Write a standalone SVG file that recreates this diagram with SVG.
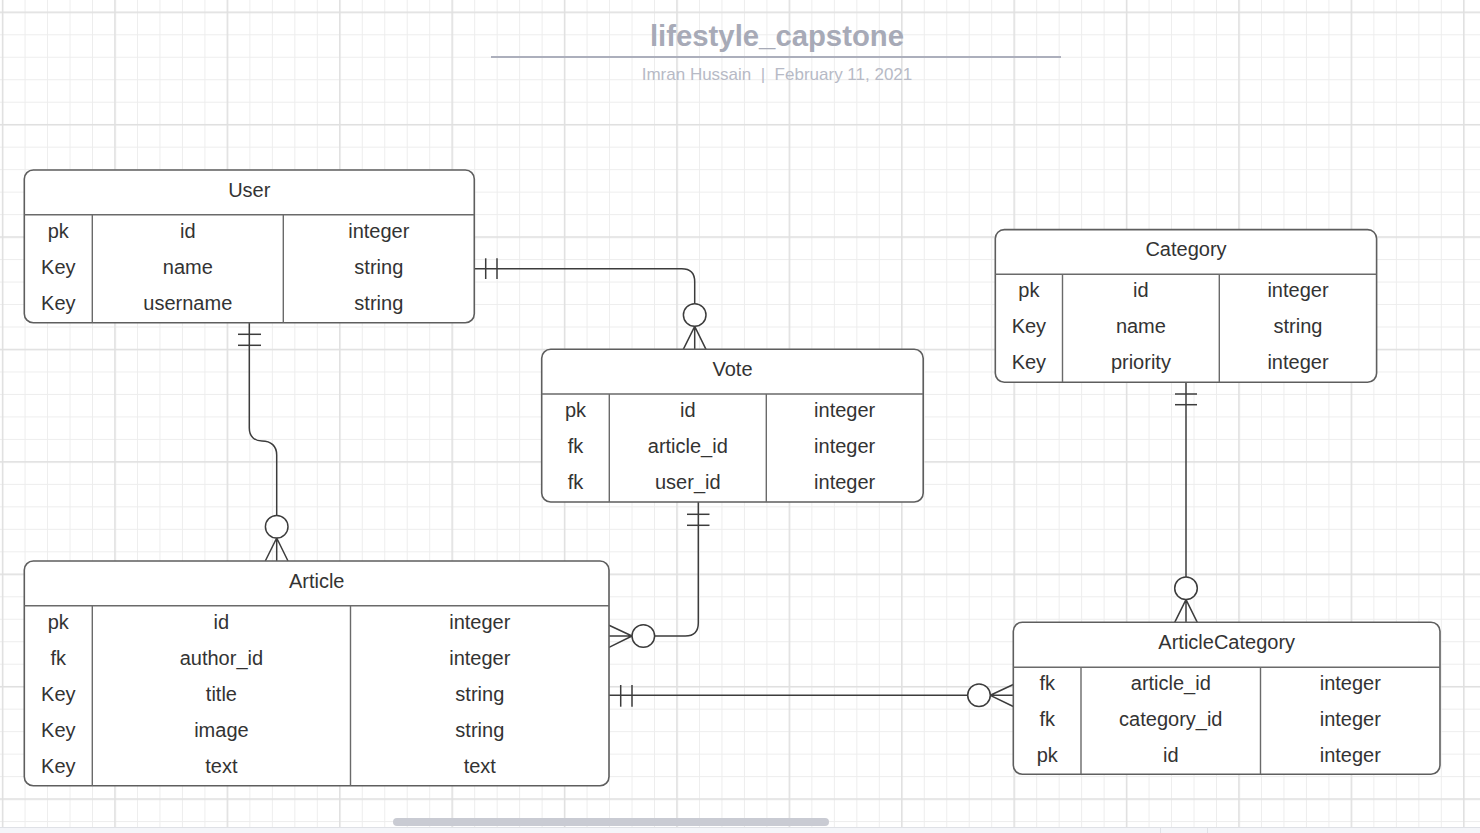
<svg xmlns="http://www.w3.org/2000/svg" width="1480" height="833" viewBox="0 0 1480 833">
<defs>
<pattern id="gmin" patternUnits="userSpaceOnUse" x="2.1" y="11.8" width="22.48" height="22.48">
<rect x="0" y="0" width="1" height="22.48" fill="#ededed"/>
<rect x="0" y="0" width="22.48" height="1" fill="#ededed"/>
</pattern>
<pattern id="gmaj" patternUnits="userSpaceOnUse" x="1.85" y="11.55" width="112.4" height="112.4">
<rect x="0" y="0" width="1.5" height="112.4" fill="#e0e0e0"/>
<rect x="0" y="0" width="112.4" height="1.5" fill="#e0e0e0"/>
</pattern>
<style>
.box{fill:#ffffff;stroke:#5e5e5e;stroke-width:1.6}
.sep{stroke:#6a6a6a;stroke-width:1.4;fill:none}
.t{font-family:"Liberation Sans",Arial,sans-serif;font-size:20px;fill:#333333;text-anchor:middle}
.ln{stroke:#3c3c3c;stroke-width:1.5;fill:none}
.cir{stroke:#3c3c3c;stroke-width:1.5;fill:#ffffff}
</style>
</defs>
<rect width="1480" height="833" fill="#ffffff"/>
<rect width="1480" height="833" fill="url(#gmin)"/>
<rect width="1480" height="833" fill="url(#gmaj)"/>
<rect x="0" y="827" width="1480" height="6" fill="#f4f5f9"/>
<line x1="0" y1="827.5" x2="1480" y2="827.5" stroke="#dfe1e6" stroke-width="1"/>
<line x1="1160.5" y1="828" x2="1160.5" y2="833" stroke="#dfe1e6" stroke-width="1"/>
<line x1="1207.5" y1="828" x2="1207.5" y2="833" stroke="#dfe1e6" stroke-width="1"/>
<rect x="393" y="818" width="436" height="8" rx="4" fill="#c9cbd3"/>

<g id="title">
<text x="777" y="46" font-family="Liberation Sans,Arial,sans-serif" font-size="29.3" font-weight="bold" fill="#a7aab7" text-anchor="middle">lifestyle_capstone</text>
<line x1="491" y1="57" x2="1061" y2="57" stroke="#acafbc" stroke-width="2.2"/>
<text x="777" y="80" font-family="Liberation Sans,Arial,sans-serif" font-size="17" fill="#b7bac6" text-anchor="middle" xml:space="preserve">Imran Hussain  |  February 11, 2021</text>
</g>

<g id="connectors">
<!-- User - Vote -->
<path class="ln" d="M474.3,268.7 H681.7 Q694.7,268.7 694.7,281.7 V303.7"/>
<line class="ln" x1="485.7" y1="258.3" x2="485.7" y2="279"/>
<line class="ln" x1="497" y1="258.3" x2="497" y2="279"/>
<circle class="cir" cx="694.7" cy="315" r="11.3"/>
<path class="ln" d="M694.7,326.3 V349.3 M694.7,326.3 L683.3,349.3 M694.7,326.3 L706,349.3"/>
<!-- User - Article -->
<path class="ln" d="M249.3,322.7 V428 C249.3,436 254,441 262,441 C271,441 276.7,446 276.7,455 V515.4"/>
<line class="ln" x1="238" y1="334.3" x2="261" y2="334.3"/>
<line class="ln" x1="238" y1="345.3" x2="261" y2="345.3"/>
<circle class="cir" cx="276.7" cy="526.7" r="11.3"/>
<path class="ln" d="M276.7,538 V561 M276.7,538 L265.3,561 M276.7,538 L288,561"/>
<!-- Vote - Article -->
<path class="ln" d="M698.3,502 V623 Q698.3,636 685.3,636 H654.6"/>
<line class="ln" x1="687" y1="514.3" x2="709.5" y2="514.3"/>
<line class="ln" x1="687" y1="525.3" x2="709.5" y2="525.3"/>
<circle class="cir" cx="643.3" cy="636" r="11.3"/>
<path class="ln" d="M632,636 H609 M632,636 L609,625.3 M632,636 L609,647.3"/>
<!-- Article - ArticleCategory -->
<path class="ln" d="M609,695.3 H967.7"/>
<line class="ln" x1="620.7" y1="685" x2="620.7" y2="706.7"/>
<line class="ln" x1="632" y1="685" x2="632" y2="706.7"/>
<circle class="cir" cx="979" cy="695.3" r="11.3"/>
<path class="ln" d="M990.3,695.3 H1013.3 M990.3,695.3 L1013.3,684.5 M990.3,695.3 L1013.3,706.5"/>
<!-- Category - ArticleCategory -->
<path class="ln" d="M1186,382 V577"/>
<line class="ln" x1="1175" y1="394" x2="1197" y2="394"/>
<line class="ln" x1="1175" y1="404.7" x2="1197" y2="404.7"/>
<circle class="cir" cx="1186" cy="588.3" r="11.3"/>
<path class="ln" d="M1186,599.6 V622.3 M1186,599.6 L1174.7,622.3 M1186,599.6 L1197.3,622.3"/>
</g>

<g id="User">
<rect class="box" x="24.3" y="170" width="450" height="152.7" rx="9"/>
<path class="sep" d="M24.3,214.7 H474.3 M92.3,214.7 V322.7 M283.3,214.7 V322.7"/>
<text class="t" x="249.3" y="196.5">User</text>
<text class="t" x="58.3" y="237.8">pk</text><text class="t" x="187.8" y="237.8">id</text><text class="t" x="378.8" y="237.8">integer</text>
<text class="t" x="58.3" y="273.8">Key</text><text class="t" x="187.8" y="273.8">name</text><text class="t" x="378.8" y="273.8">string</text>
<text class="t" x="58.3" y="309.8">Key</text><text class="t" x="187.8" y="309.8">username</text><text class="t" x="378.8" y="309.8">string</text>
</g>

<g id="Vote">
<rect class="box" x="541.7" y="349.3" width="381.5" height="152.7" rx="9"/>
<path class="sep" d="M541.7,394 H923.2 M609.3,394 V502 M766.3,394 V502"/>
<text class="t" x="732.5" y="375.8">Vote</text>
<text class="t" x="575.5" y="417.1">pk</text><text class="t" x="687.8" y="417.1">id</text><text class="t" x="844.7" y="417.1">integer</text>
<text class="t" x="575.5" y="453.1">fk</text><text class="t" x="687.8" y="453.1">article_id</text><text class="t" x="844.7" y="453.1">integer</text>
<text class="t" x="575.5" y="489.1">fk</text><text class="t" x="687.8" y="489.1">user_id</text><text class="t" x="844.7" y="489.1">integer</text>
</g>

<g id="Category">
<rect class="box" x="995.3" y="229.6" width="381.3" height="152.7" rx="9"/>
<path class="sep" d="M995.3,274.3 H1376.6 M1062.5,274.3 V382.3 M1219.3,274.3 V382.3"/>
<text class="t" x="1186" y="256.1">Category</text>
<text class="t" x="1028.9" y="297.4">pk</text><text class="t" x="1140.9" y="297.4">id</text><text class="t" x="1298" y="297.4">integer</text>
<text class="t" x="1028.9" y="333.4">Key</text><text class="t" x="1140.9" y="333.4">name</text><text class="t" x="1298" y="333.4">string</text>
<text class="t" x="1028.9" y="369.4">Key</text><text class="t" x="1140.9" y="369.4">priority</text><text class="t" x="1298" y="369.4">integer</text>
</g>

<g id="Article">
<rect class="box" x="24.3" y="561" width="584.7" height="224.7" rx="9"/>
<path class="sep" d="M24.3,605.7 H609 M92.3,605.7 V785.7 M350.5,605.7 V785.7"/>
<text class="t" x="316.7" y="587.5">Article</text>
<text class="t" x="58.3" y="628.8">pk</text><text class="t" x="221.4" y="628.8">id</text><text class="t" x="479.8" y="628.8">integer</text>
<text class="t" x="58.3" y="664.8">fk</text><text class="t" x="221.4" y="664.8">author_id</text><text class="t" x="479.8" y="664.8">integer</text>
<text class="t" x="58.3" y="700.8">Key</text><text class="t" x="221.4" y="700.8">title</text><text class="t" x="479.8" y="700.8">string</text>
<text class="t" x="58.3" y="736.8">Key</text><text class="t" x="221.4" y="736.8">image</text><text class="t" x="479.8" y="736.8">string</text>
<text class="t" x="58.3" y="772.8">Key</text><text class="t" x="221.4" y="772.8">text</text><text class="t" x="479.8" y="772.8">text</text>
</g>

<g id="ArticleCategory">
<rect class="box" x="1013.3" y="622.3" width="426.7" height="152" rx="9"/>
<path class="sep" d="M1013.3,667.3 H1440 M1081,667.3 V774.3 M1260.5,667.3 V774.3"/>
<text class="t" x="1226.7" y="648.8">ArticleCategory</text>
<text class="t" x="1047.2" y="690.1">fk</text><text class="t" x="1170.8" y="690.1">article_id</text><text class="t" x="1350.3" y="690.1">integer</text>
<text class="t" x="1047.2" y="726.1">fk</text><text class="t" x="1170.8" y="726.1">category_id</text><text class="t" x="1350.3" y="726.1">integer</text>
<text class="t" x="1047.2" y="762.1">pk</text><text class="t" x="1170.8" y="762.1">id</text><text class="t" x="1350.3" y="762.1">integer</text>
</g>
</svg>
